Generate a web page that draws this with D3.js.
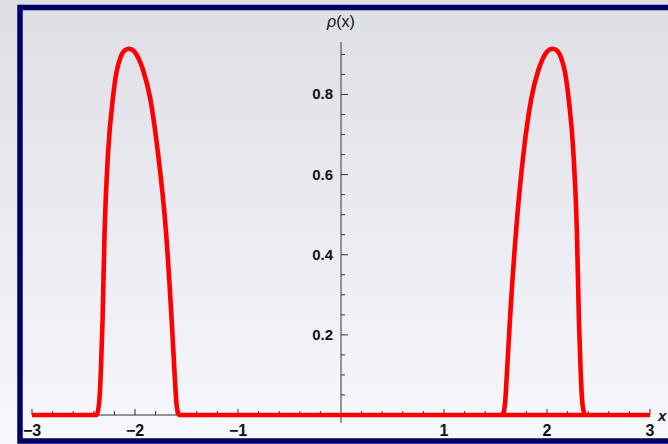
<!DOCTYPE html>
<html>
<head>
<meta charset="utf-8">
<script src="https://cdn.jsdelivr.net/npm/d3@7"></script>
<style>
  html, body { margin: 0; padding: 0; }
  body { width: 668px; height: 444px; overflow: hidden; }
  svg { display: block; font-family: 'Liberation Sans', Arial, sans-serif; }
</style>
</head>
<body>
<svg id="chart" width="668" height="444"></svg>
<script>
// density rho(x)
const rhoX = [
  -3, -2.375, -2.36, -2.345, -2.33, -2.315, -2.295, -2.26, -2.215, -2.18, -2.14, -2.10, -2.055,
  -2.01, -1.965, -1.92, -1.852, -1.78, -1.70, -1.644, -1.615, -1.598, -1.585, -1.57, 3
];
const rhoY = [
  0, 0, 0.01, 0.04, 0.12, 0.237, 0.46, 0.66, 0.79, 0.855, 0.893, 0.91, 0.914,
  0.908, 0.89, 0.86, 0.79, 0.66, 0.46, 0.237, 0.1, 0.03, 0.008, 0, 0
];
const rhoX2 = [
  1.565, 1.58, 1.593, 1.61, 1.64, 1.70, 1.775, 1.848, 1.915, 1.96, 2.005, 2.05,
  2.095, 2.135, 2.175, 2.21, 2.255, 2.29, 2.31, 2.325, 2.34, 2.355, 2.37
];
const rhoY2 = [
  0, 0.008, 0.03, 0.1, 0.237, 0.46, 0.66, 0.79, 0.86, 0.89, 0.908, 0.914,
  0.91, 0.893, 0.855, 0.79, 0.66, 0.46, 0.237, 0.12, 0.04, 0.01, 0
];
const xTicks = [-3, -2, -1, 1, 2, 3];
const yTicks = [0.2, 0.4, 0.6, 0.8];

const width = 668;
const height = 444;

const svg = d3.select('#chart');

// background gradient
const defs = svg.append('defs');
const grad = defs.append('linearGradient')
  .attr('id', 'bg')
  .attr('x1', 0).attr('y1', 0).attr('x2', 0).attr('y2', 1);
grad.append('stop').attr('offset', '0%').attr('stop-color', '#dedee5');
grad.append('stop').attr('offset', '100%').attr('stop-color', '#f7f8fc');
svg.append('rect')
  .attr('width', width)
  .attr('height', height)
  .attr('fill', 'url(#bg)');

const x = d3.scaleLinear().domain([-3, 3]).range([32, 650]);
const y = d3.scaleLinear().domain([-0.02, 0.931]).range([423, 42]);

const g = svg.append('g');
const axisColor = '#333';

// x axis line and ticks (ticks point upward)
g.append('line')
  .attr('x1', x(-3)).attr('x2', x(3))
  .attr('y1', y(0)).attr('y2', y(0))
  .attr('stroke', axisColor).attr('stroke-width', 1.2);

const xMinor = d3.range(-3, 3.001, 0.2).filter(v => Math.abs(v) > 1e-6);
g.selectAll('.x-tick')
  .data(xMinor)
  .enter()
  .append('line')
  .attr('class', 'x-tick')
  .attr('x1', d => x(d)).attr('x2', d => x(d))
  .attr('y1', y(0))
  .attr('y2', d => y(0) - (Math.abs(d - Math.round(d)) < 1e-6 ? 6 : 4))
  .attr('stroke', axisColor).attr('stroke-width', 1);

g.selectAll('.x-label')
  .data(xTicks)
  .enter()
  .append('text')
  .attr('class', 'x-label')
  .attr('x', d => x(d))
  .attr('y', y(0) + 21)
  .attr('text-anchor', 'middle')
  .attr('font-size', 16)
  .attr('font-weight', 'bold')
  .attr('fill', '#111')
  .text(d => (d < 0 ? '\u2212' + Math.abs(d) : d));

// y axis line and ticks (ticks point right)
g.append('line')
  .attr('x1', x(0)).attr('x2', x(0))
  .attr('y1', y(-0.02)).attr('y2', y(0.931))
  .attr('stroke', '#555').attr('stroke-width', 1.2);

const yMinor = d3.range(0.05, 0.93, 0.05);
g.selectAll('.y-tick')
  .data(yMinor)
  .enter()
  .append('line')
  .attr('class', 'y-tick')
  .attr('x1', x(0))
  .attr('x2', d => x(0) + (Math.abs(d * 5 - Math.round(d * 5)) < 1e-6 ? 7 : 4))
  .attr('y1', d => y(d)).attr('y2', d => y(d))
  .attr('stroke', axisColor).attr('stroke-width', 1);

g.selectAll('.y-label')
  .data(yTicks)
  .enter()
  .append('text')
  .attr('class', 'y-label')
  .attr('x', x(0) - 8)
  .attr('y', d => y(d) + 5)
  .attr('text-anchor', 'end')
  .attr('font-size', 15)
  .attr('font-weight', 'bold')
  .attr('fill', '#111')
  .text(d => d3.format('.1f')(d));

// axis labels
const yLab = g.append('text')
  .attr('x', x(0))
  .attr('y', 27)
  .attr('text-anchor', 'middle')
  .attr('font-size', 16)
  .attr('fill', '#111');
yLab.append('tspan').attr('font-style', 'italic').text('\u03c1');
yLab.append('tspan').text('(x)');

g.append('text')
  .attr('x', 658)
  .attr('y', 421)
  .attr('font-size', 15)
  .attr('font-weight', 'bold')
  .attr('font-style', 'italic')
  .attr('fill', '#111')
  .text('x');

// density curve: left bump + flat part, then right bump drawn on top
const line = d3.line()
  .x(d => x(d[0]))
  .y(d => y(d[1]))
  .curve(d3.curveMonotoneX);

const series = [
  rhoX.map((v, i) => [v, rhoY[i]]),
  rhoX2.map((v, i) => [v, rhoY2[i]])
];

g.selectAll('.rho')
  .data(series)
  .enter()
  .append('path')
  .attr('class', 'rho')
  .attr('d', line)
  .attr('fill', 'none')
  .attr('stroke', '#ff0000')
  .attr('stroke-width', 4.6)
  .attr('stroke-linejoin', 'round');

// frame
svg.append('rect')
  .attr('x', 20)
  .attr('y', 7.5)
  .attr('width', 700)
  .attr('height', 433.5)
  .attr('fill', 'none')
  .attr('stroke', '#000066')
  .attr('stroke-width', 5.5);
</script>
</body>
</html>
